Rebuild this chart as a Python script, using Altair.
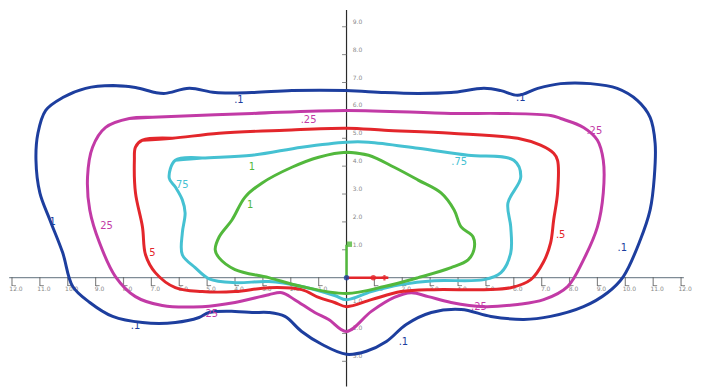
import altair as alt
import pandas as pd

# Isodose-style contour levels (closed curves), coordinates in axis units
levels = ["0.1", "0.25", "0.5", "0.75", "1"]
colors = ["#1d3e9e", "#c23aa6", "#e3262b", "#45c1d2", "#52b83c"]

blue_x = [-8.39, -7.57, -6.86, -6.50, -5.64, -4.71, -3.39, -1.96, 0.00, 1.36, 2.57, 3.75, 4.93, 5.54, 6.14, 6.86, 7.68, 8.75, 9.71, 10.43, 10.89, 11.07, 11.04, 10.89, 10.54, 9.93, 9.36, 8.50, 7.32, 6.36, 5.18, 4.11, 3.04, 2.14, 1.43, 0.71, 0.00, -0.89, -1.61, -2.21, -2.79, -3.39, -4.00, -4.93, -5.29, -6.14, -7.32, -8.39, -9.21, -9.82, -10.18, -10.64, -11.00, -11.14, -11.07, -10.79, -10.18, -9.36]
blue_y = [6.89, 6.82, 6.64, 6.61, 6.79, 6.64, 6.64, 6.71, 6.71, 6.64, 6.61, 6.64, 6.79, 6.71, 6.54, 6.79, 6.96, 6.96, 6.79, 6.36, 5.75, 4.82, 3.61, 2.43, 1.36, 0.04, -0.54, -1.04, -1.39, -1.50, -1.39, -1.14, -1.25, -1.68, -2.29, -2.64, -2.75, -2.39, -1.93, -1.39, -1.25, -1.25, -1.21, -1.25, -1.43, -1.61, -1.61, -1.39, -0.89, -0.32, 0.89, 2.07, 3.04, 4.21, 5.18, 6.00, 6.46, 6.79]

magenta_x = [-7.79, -6.96, -3.39, 0.00, 3.75, 5.54, 7.32, 7.68, 8.50, 9.00, 9.21, 9.21, 9.00, 8.50, 7.93, 7.07, 6.14, 4.93, 3.75, 2.93, 2.32, 1.71, 0.89, 0.00, -0.64, -1.14, -1.86, -2.32, -2.79, -4.00, -5.18, -6.61, -7.57, -8.29, -8.86, -9.21, -9.29, -9.11, -8.64]
magenta_y = [5.71, 5.75, 5.89, 6.00, 5.89, 5.89, 5.82, 5.71, 5.39, 4.93, 4.21, 3.04, 1.82, 0.64, -0.32, -0.79, -0.96, -1.04, -0.89, -0.68, -0.54, -0.71, -1.21, -1.93, -1.50, -1.25, -0.79, -0.54, -0.61, -0.89, -1.04, -1.00, -0.68, 0.04, 1.25, 2.43, 3.61, 4.68, 5.39]

red_x = [-7.32, -6.25, -4.57, -2.21, 0.00, 1.36, 3.75, 6.14, 6.96, 7.43, 7.57, 7.57, 7.43, 7.32, 7.07, 6.61, 5.89, 4.93, 3.14, 1.96, 0.89, 0.00, -0.43, -1.00, -1.61, -2.79, -4.00, -5.18, -6.14, -6.86, -7.21, -7.32, -7.57, -7.61, -7.57]
red_y = [4.93, 5.00, 5.18, 5.29, 5.36, 5.29, 5.18, 5.00, 4.75, 4.46, 4.21, 3.04, 2.07, 1.25, 0.57, -0.07, -0.36, -0.43, -0.43, -0.50, -0.79, -1.04, -0.89, -0.71, -0.43, -0.36, -0.50, -0.50, -0.36, 0.18, 0.82, 1.82, 3.04, 4.21, 4.68]

cyan_x = [-6.14, -5.18, -3.39, -1.61, 0.00, 0.79, 2.57, 4.36, 6.00, 6.25, 5.79, 5.89, 5.89, 5.54, 4.93, 3.14, 1.96, 0.89, 0.00, -0.43, -1.61, -2.79, -4.00, -4.93, -5.43, -5.89, -5.89, -5.79, -5.89, -6.14, -6.36]
cyan_y = [4.21, 4.29, 4.39, 4.68, 4.86, 4.86, 4.64, 4.39, 4.21, 3.61, 2.68, 1.82, 0.89, 0.18, -0.07, -0.11, -0.25, -0.50, -0.79, -0.64, -0.32, -0.14, -0.18, -0.04, 0.36, 0.82, 1.61, 2.32, 2.79, 3.25, 3.57]

green_x = [0.00, 0.79, 1.71, 2.57, 3.39, 3.86, 4.11, 4.54, 4.57, 4.36, 3.75, 2.57, 1.36, 0.00, -1.61, -2.79, -4.00, -4.57, -4.71, -4.57, -4.11, -3.64, -3.04, -1.96, -1.00]
green_y = [4.50, 4.39, 3.96, 3.50, 3.04, 2.43, 1.82, 1.46, 1.00, 0.64, 0.36, 0.00, -0.32, -0.57, -0.32, 0.00, 0.29, 0.71, 1.00, 1.46, 2.07, 2.89, 3.39, 3.96, 4.32]

# Contour labels
label_text = [".1", ".1", "1", ".1", ".1", ".1", ".25", ".25", "25", ".25", ".25", ".5", "5", ".75", "75", "1", "1"]
label_level = ["0.1", "0.1", "0.1", "0.1", "0.1", "0.1", "0.25", "0.25", "0.25", "0.25", "0.25", "0.5", "0.5", "0.75", "0.75", "1", "1"]
label_x = [-3.86, 6.25, -10.54, 9.89, -7.57, 2.04, -1.36, 8.89, -8.61, -4.89, 4.75, 7.68, -6.96, 4.04, -5.89, -3.39, -3.46]
label_y = [6.36, 6.46, 2.00, 1.07, -1.75, -2.32, 5.64, 5.25, 1.86, -1.32, -1.07, 1.54, 0.89, 4.14, 3.32, 3.96, 2.61]

# Axis ticks and labels
x_ticks = [-12, -11, -10, -9, -8, -7, -6, -5, -4, -3, -2, -1, 1, 2, 3, 4, 5, 6, 7, 8, 9, 10, 11, 12]
x_tick_labels = ["12.0", "11.0", "10.0", "9.0", "8.0", "7.0", "6.0", "5.0", "4.0", "3.0", "2.0", "1.0", "1.0", "2.0", "3.0", "4.0", "5.0", "6.0", "7.0", "8.0", "9.0", "10.0", "11.0", "12.0"]
y_ticks = [-3, -2, -1, 1, 2, 3, 4, 5, 6, 7, 8, 9]
y_tick_labels = ["3.0", "2.0", "1.0", "1.0", "2.0", "3.0", "4.0", "5.0", "6.0", "7.0", "8.0", "9.0"]

X_DOMAIN = [-12.036, 12.464]
Y_DOMAIN = [-3.714, 9.643]

rows = []
for lev, xs, ys in zip(levels, [blue_x, magenta_x, red_x, cyan_x, green_x],
                       [blue_y, magenta_y, red_y, cyan_y, green_y]):
    pts = list(zip(xs, ys)) + [(xs[0], ys[0]), (xs[1], ys[1])]
    for i, (a, b) in enumerate(pts):
        rows.append({"level": lev, "x": a, "y": b, "i": i})
curves = pd.DataFrame(rows)

xs = alt.Scale(domain=X_DOMAIN, nice=False, zero=False)
ys = alt.Scale(domain=Y_DOMAIN, nice=False, zero=False)
cs = alt.Scale(domain=levels, range=colors)

# axes
haxis = alt.Chart(pd.DataFrame({"x": [-12.1], "x2": [12.1], "y": [0]})).mark_rule(
    color="#7f8c96", strokeWidth=1.2).encode(
    x=alt.X("x:Q", scale=xs, axis=None), x2="x2:Q", y=alt.Y("y:Q", scale=ys, axis=None))
vaxis = alt.Chart(pd.DataFrame({"x": [0], "y": [9.6], "y2": [-3.9]})).mark_rule(
    color="#2a2a2a", strokeWidth=1.2).encode(
    x=alt.X("x:Q", scale=xs, axis=None), y=alt.Y("y:Q", scale=ys, axis=None), y2="y2:Q")

xt = pd.DataFrame({"x": x_ticks, "y": [0] * len(x_ticks), "t": x_tick_labels})
xtick = alt.Chart(xt).mark_tick(orient="vertical", size=9, thickness=1.2, color="#555", yOffset=4).encode(
    x=alt.X("x:Q", scale=xs, axis=None), y=alt.Y("y:Q", scale=ys, axis=None))
xfoot = alt.Chart(xt).mark_tick(orient="horizontal", size=4, thickness=1, color="#555", yOffset=8, xOffset=2).encode(
    x=alt.X("x:Q", scale=xs, axis=None), y=alt.Y("y:Q", scale=ys, axis=None))
xlab = alt.Chart(xt).mark_text(fontSize=6, fill="#888888", dy=11, dx=4, font="DejaVu Sans").encode(
    x=alt.X("x:Q", scale=xs, axis=None), y=alt.Y("y:Q", scale=ys, axis=None), text="t:N")

yt = pd.DataFrame({"x": [0] * len(y_ticks), "y": y_ticks, "t": y_tick_labels})
ytick = alt.Chart(yt).mark_tick(orient="horizontal", size=5, thickness=1, color="#555", xOffset=-2).encode(
    x=alt.X("x:Q", scale=xs, axis=None), y=alt.Y("y:Q", scale=ys, axis=None))
ylab = alt.Chart(yt).mark_text(fontSize=6, fill="#888888", dx=11, dy=-5, font="DejaVu Sans").encode(
    x=alt.X("x:Q", scale=xs, axis=None), y=alt.Y("y:Q", scale=ys, axis=None), text="t:N")

lines = alt.Chart(curves).mark_line(strokeWidth=3, interpolate="catmull-rom", strokeJoin="round").encode(
    x=alt.X("x:Q", scale=xs, axis=None),
    y=alt.Y("y:Q", scale=ys, axis=None),
    color=alt.Color("level:N", scale=cs, legend=None),
    detail="level:N",
    order="i:Q",
)

# small origin markers: green stem upward, red stem rightward
stems = pd.DataFrame({"level": ["1", "0.5"], "x": [0, 0], "y": [0, 0], "x2": [0, 1.5], "y2": [1.18, 0]})
stem = alt.Chart(stems).mark_rule(strokeWidth=2.5).encode(
    x=alt.X("x:Q", scale=xs, axis=None), y=alt.Y("y:Q", scale=ys, axis=None),
    x2="x2:Q", y2="y2:Q", color=alt.Color("level:N", scale=cs, legend=None))
marks = pd.DataFrame({"level": ["0.1", "0.5", "0.5", "1"], "x": [0, 0.96, 1.36, 0.1], "y": [0, 0, 0, 1.2],
                      "s": ["circle", "circle", "cross", "square"]})
origin = alt.Chart(marks).mark_point(filled=True, size=30, opacity=0.8).encode(
    x=alt.X("x:Q", scale=xs, axis=None), y=alt.Y("y:Q", scale=ys, axis=None),
    color=alt.Color("level:N", scale=cs, legend=None),
    shape=alt.Shape("s:N", scale=alt.Scale(domain=["circle", "cross", "square"], range=["circle", "cross", "square"]), legend=None))

lab = pd.DataFrame({"t": label_text, "level": label_level, "x": label_x, "y": label_y})
labels = alt.Chart(lab).mark_text(fontSize=10, font="DejaVu Sans").encode(
    x=alt.X("x:Q", scale=xs, axis=None), y=alt.Y("y:Q", scale=ys, axis=None),
    text="t:N", color=alt.Color("level:N", scale=cs, legend=None))

chart = alt.layer(haxis, xtick, xfoot, xlab, vaxis, ytick, ylab, lines, stem, origin, labels).properties(
    width=686, height=374, padding=0, background="white"
).configure_view(stroke=None)

chart.save("out.html", embed_options={"renderer": "svg", "actions": False})
